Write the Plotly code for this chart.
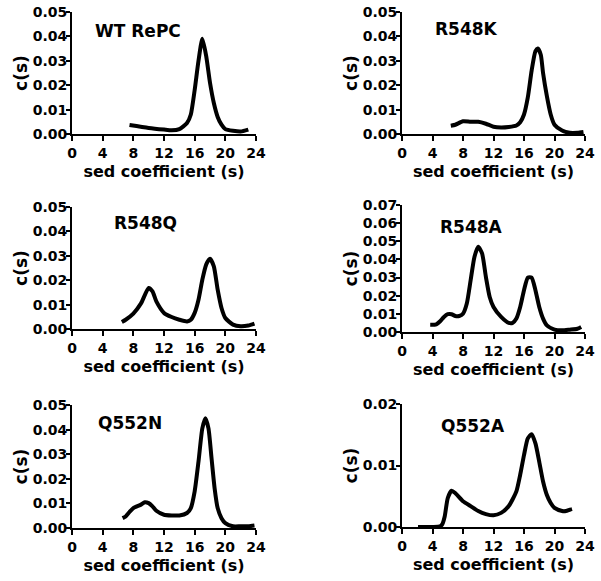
import plotly.graph_objects as go

# ---- data ----
names = ["WT RePC", "R548K", "R548Q", "R548A", "Q552N", "Q552A"]

wt_x = [7.5, 10, 12, 13, 14, 15, 15.5, 16, 16.5, 17, 17.5, 18, 18.5, 19, 19.5, 20, 21, 22, 23]
wt_y = [0.0037, 0.0025, 0.0018, 0.0015, 0.002, 0.0045, 0.008, 0.018, 0.030, 0.039, 0.032, 0.021,
        0.0127, 0.007, 0.0038, 0.002, 0.0013, 0.001, 0.0018]

k_x = [6.4, 7, 8, 9, 10, 11, 12, 13, 14, 15, 15.5, 16, 16.5, 17, 17.5, 17.8, 18.2, 18.5, 19, 19.5,
       20, 21, 22, 23, 23.8]
k_y = [0.0034, 0.0038, 0.0052, 0.005, 0.005, 0.0042, 0.003, 0.0027, 0.0029, 0.0035, 0.0048, 0.008,
       0.015, 0.026, 0.034, 0.035, 0.0325, 0.025, 0.0155, 0.008, 0.0038, 0.0014, 0.0005, 0.0005, 0.0008]

q_x = [6.5, 7, 8, 9, 10, 10.5, 11, 12, 13, 14, 15, 15.5, 16, 16.5, 17, 17.5, 18, 18.5, 19, 19.5,
       20, 21, 22, 23, 23.8]
q_y = [0.0029, 0.0038, 0.0063, 0.0105, 0.0168, 0.0154, 0.0113, 0.0066, 0.0049, 0.0038, 0.0031,
       0.0038, 0.0066, 0.012, 0.0202, 0.0264, 0.0288, 0.0257, 0.0161, 0.0086, 0.0045, 0.0018,
       0.0011, 0.0014, 0.0022]

a_x = [3.7, 4.5, 5, 5.5, 6, 6.5, 7, 7.5, 8, 8.5, 9, 9.5, 10, 10.5, 11, 11.5, 12, 13, 14, 14.5, 15,
       15.5, 16, 16.5, 17, 17.5, 18, 18.5, 19, 20, 21, 22, 23, 23.5]
a_y = [0.004, 0.0042, 0.0059, 0.0083, 0.0098, 0.0098, 0.0088, 0.0088, 0.0101, 0.0157, 0.0285,
       0.0414, 0.047, 0.0433, 0.0304, 0.0193, 0.0138, 0.0083, 0.005, 0.005, 0.0074, 0.0138, 0.023,
       0.030, 0.030, 0.023, 0.0138, 0.0074, 0.0037, 0.0013, 0.0009, 0.0013, 0.0018, 0.0028]

n_x = [6.6, 7, 7.5, 8, 9, 9.5, 10, 10.5, 11, 12, 13, 14, 15, 15.5, 16, 16.5, 17, 17.4, 17.8, 18.2,
       18.6, 19, 19.5, 20, 21, 22, 23, 23.8]
n_y = [0.004, 0.0047, 0.0065, 0.0081, 0.0095, 0.0105, 0.0101, 0.0088, 0.007, 0.0054, 0.0051,
       0.0051, 0.0061, 0.0081, 0.0149, 0.027, 0.0405, 0.0446, 0.0405, 0.0284, 0.0162, 0.0081,
       0.004, 0.002, 0.0007, 0.0007, 0.0007, 0.001]

qa_x = [2.1, 4, 5, 5.3, 5.6, 6, 6.5, 7, 8, 9, 10, 11, 12, 13, 14, 15, 15.5, 16, 16.5, 17, 17.5, 18,
        18.5, 19, 19.5, 20, 21, 21.5, 22, 22.3]
qa_y = [0.0, 0.0, 0.0001, 0.0005, 0.0017, 0.0047, 0.0059, 0.0055, 0.0042, 0.0034, 0.0026, 0.0021,
        0.0019, 0.0023, 0.0034, 0.0058, 0.0085, 0.0117, 0.0144, 0.0151, 0.0136, 0.0106, 0.0074,
        0.0052, 0.0039, 0.0031, 0.0026, 0.0026, 0.0028, 0.0029]

series_x = [wt_x, k_x, q_x, a_x, n_x, qa_x]
series_y = [wt_y, k_y, q_y, a_y, n_y, qa_y]

x_ticks = [0, 4, 8, 12, 16, 20, 24]
y_ticks = [
    [0, 0.01, 0.02, 0.03, 0.04, 0.05],
    [0, 0.01, 0.02, 0.03, 0.04, 0.05],
    [0, 0.01, 0.02, 0.03, 0.04, 0.05],
    [0, 0.01, 0.02, 0.03, 0.04, 0.05, 0.06, 0.07],
    [0, 0.01, 0.02, 0.03, 0.04, 0.05],
    [0, 0.01, 0.02],
]
y_max = [0.05, 0.05, 0.05, 0.07, 0.05, 0.02]

# ---- layout geometry (pixels) ----
W, H = 601, 581
boxes = [  # x0, x1, ytop, ybottom
    (72, 256, 12, 134),
    (402, 585, 12, 134),
    (72, 256, 207, 329),
    (402, 585, 205, 332),
    (72, 256, 405, 528),
    (402, 585, 404, 527),
]
label_pos = [(93, 31), (433, 29), (112, 223), (438, 227), (96, 423), (439, 426)]

FONT = "DejaVu Sans"
fig = go.Figure()
layout = {}
annotations = []
for i in range(6):
    sfx = "" if i == 0 else str(i + 1)
    fig.add_trace(go.Scatter(
        x=series_x[i], y=series_y[i], mode="lines",
        line=dict(color="black", width=4, shape="spline", smoothing=0.6),
        xaxis="x" + sfx, yaxis="y" + sfx, showlegend=False, hoverinfo="x+y"))
    x0, x1, yt, yb = boxes[i]
    layout["xaxis" + sfx] = dict(
        domain=[x0 / W, x1 / W], range=[0, 24], anchor="y" + sfx, automargin=False,
        tickvals=x_ticks, ticks="outside", ticklen=5, tickwidth=2, tickcolor="black",
        showline=True, linewidth=2, linecolor="black", showgrid=False, zeroline=False,
        tickfont=dict(family=FONT, size=14, color="black", weight="bold"),
        title=dict(text="sed coefficient (s)", standoff=6,
                   font=dict(family=FONT, size=16, color="black", weight="bold")),
        fixedrange=True)
    layout["yaxis" + sfx] = dict(
        domain=[1 - yb / H, 1 - yt / H], range=[0, y_max[i]], anchor="x" + sfx,
        automargin=False, ticklabelstandoff=-4,
        tickvals=y_ticks[i], tickformat=".2f", ticks="outside", ticklen=4, tickwidth=2,
        tickcolor="black", showline=True, linewidth=2, linecolor="black", showgrid=False,
        zeroline=False,
        tickfont=dict(family=FONT, size=14, color="black", weight="bold"),
        title=dict(text="c(s)", standoff=1,
                   font=dict(family=FONT, size=17, color="black", weight="bold")),
        fixedrange=True)
    lx, ly = label_pos[i]
    annotations.append(dict(
        text=names[i], x=lx / W, y=1 - ly / H, xref="paper", yref="paper",
        xanchor="left", yanchor="middle", showarrow=False,
        font=dict(family=FONT, size=17, color="black", weight="bold")))

fig.update_layout(
    width=W, height=H, margin=dict(l=0, r=0, t=0, b=0, autoexpand=False),
    paper_bgcolor="white", plot_bgcolor="white",
    annotations=annotations, **layout)

fig.write_html("out.html", config={"displayModeBar": False},
               post_script="document.body.style.margin='0';document.body.style.overflow='hidden';")
